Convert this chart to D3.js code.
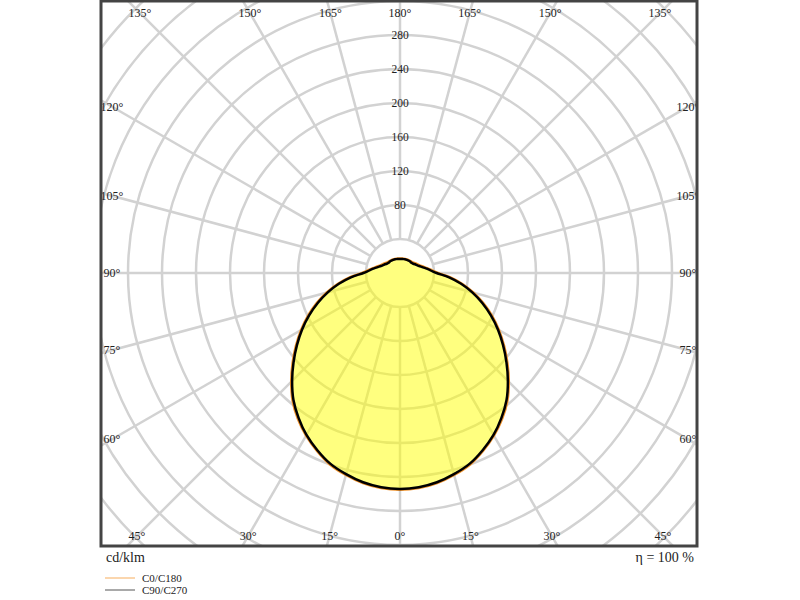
<!DOCTYPE html>
<html>
<head>
<meta charset="utf-8">
<script src="https://cdn.jsdelivr.net/npm/d3@7"></script>
<style>
  html, body { margin: 0; padding: 0; background: #fff; }
  svg { display: block; }
  text { font-family: "Liberation Serif", "Times New Roman", serif; fill: #222; }
</style>
</head>
<body>
<svg id="chart" width="800" height="600"></svg>
<script>
// ---- data (cd/klm) ----
const gammaAngles = [0,5,10,15,20,25,30,35,40,45,50,55,60,65,70,75,80,85,90,95,100,105,110,115,120,125,130,135,140,145,150,155,160,165,170,175,180];
const c0c180 = [255,254,251,246,240,231,221,209.5,196.5,181,165,149.5,134.5,119.5,104.5,89.5,74.5,59.5,44.5,37.5,32.5,28.5,25.5,23.5,22,20.5,19.5,19,18.5,18.2,18,17.8,17.6,17.4,17.2,17,17];
const c90c270 = [254,253,250,245,239,230,220,208,195,179.5,163.5,148,133,118,103,88,73,58,43,36,31,27,24,22,20.5,19,18.2,18,17.9,17.7,17.5,17.3,17.1,16.9,16.7,16.5,16.5];
const ringValues = [40,80,120,160,200,240,280,320,360,400,440,480,520];
const ringLabels = [80,120,160,200,240,280];
const spokeAngles = [0,15,30,45,60,75,90,105,120,135,150,165,180];
const seriesNames = ["C0/C180", "C90/C270"];
const unitLabel = "cd/klm";
const effLabel = "η = 100 %";

// ---- layout ----
const svg = d3.select("#chart");
const cx = 400, cy = 273;
const box = {x0: 101, y0: 1, x1: 697, y1: 546};
const r = d3.scaleLinear().domain([0, 280]).range([0, 238]);
const toRad = d => d * Math.PI / 180;

svg.append("defs").append("clipPath").attr("id", "clip")
  .append("rect").attr("x", box.x0).attr("y", box.y0)
  .attr("width", box.x1 - box.x0).attr("height", box.y1 - box.y0);

const plot = svg.append("g").attr("clip-path", "url(#clip)");
const g = plot.append("g").attr("transform", `translate(${cx},${cy})`);

// rings
g.selectAll("circle.ring").data(ringValues).join("circle")
  .attr("class", "ring").attr("r", d => r(d))
  .attr("fill", "none").attr("stroke", "#d2d2d2").attr("stroke-width", 2.5);

// spokes (both sides)
const spokes = [];
spokeAngles.forEach(a => { spokes.push(a); if (a !== 0 && a !== 180) spokes.push(-a); });
g.selectAll("line.spoke").data(spokes).join("line")
  .attr("class", "spoke")
  .attr("x1", d => r(40) * Math.sin(toRad(d)))
  .attr("y1", d => r(40) * Math.cos(toRad(d)))
  .attr("x2", d => r(700) * Math.sin(toRad(d)))
  .attr("y2", d => r(700) * Math.cos(toRad(d)))
  .attr("stroke", "#d2d2d2").attr("stroke-width", 2.5);

// curves
function closedPoints(vals) {
  const pts = [];
  gammaAngles.forEach((ga, i) => pts.push([Math.PI - toRad(ga), r(vals[i])]));
  for (let i = gammaAngles.length - 2; i >= 1; i--) {
    pts.push([Math.PI + toRad(gammaAngles[i]), r(vals[i])]);
  }
  return pts;
}
const radial = d3.lineRadial().angle(d => d[0]).radius(d => d[1])
  .curve(d3.curveCatmullRomClosed.alpha(0.5));

g.append("path").attr("d", radial(closedPoints(c0c180)))
  .attr("fill", "#ffff00").attr("fill-opacity", 0.5).attr("stroke", "none");
g.append("path").attr("d", radial(closedPoints(c0c180)))
  .attr("fill", "none").attr("stroke", "#f0922a").attr("stroke-width", 2.5);
g.append("path").attr("d", radial(closedPoints(c90c270)))
  .attr("fill", "none").attr("stroke", "#000").attr("stroke-width", 2.5);

// ring labels
g.selectAll("text.rl").data(ringLabels).join("text")
  .attr("class", "rl").attr("x", 0).attr("y", d => -r(d))
  .attr("text-anchor", "middle").attr("dy", "0.35em")
  .attr("font-size", 11.5).text(d => d);

// angle labels placed on inset box
const inset = {left: 288, right: 288, top: 260, bottom: 263};
const angleLabels = [];
spokeAngles.forEach(a => {
  angleLabels.push({a: a, side: 1});
  if (a !== 0 && a !== 180) angleLabels.push({a: a, side: -1});
});
angleLabels.forEach(d => {
  const dx = d.side * Math.sin(toRad(d.a));
  const dy = Math.cos(toRad(d.a));
  let t = Infinity;
  if (Math.abs(dx) > 1e-6) t = Math.min(t, inset.left / Math.abs(dx));
  if (dy > 1e-6) t = Math.min(t, inset.bottom / dy);
  if (dy < -1e-6) t = Math.min(t, inset.top / -dy);
  d.x = dx * t; d.y = dy * t;
});
g.selectAll("text.al").data(angleLabels).join("text")
  .attr("class", "al").attr("x", d => d.x).attr("y", d => d.y)
  .attr("text-anchor", "middle").attr("dy", "0.35em")
  .attr("font-size", 12).text(d => d.a + "°");

// frame
svg.append("rect").attr("x", box.x0).attr("y", box.y0)
  .attr("width", box.x1 - box.x0).attr("height", box.y1 - box.y0)
  .attr("fill", "none").attr("stroke", "#444").attr("stroke-width", 3);

// footer
svg.append("text").attr("x", 106).attr("y", 562).attr("font-size", 14).text(unitLabel);
svg.append("text").attr("x", 694).attr("y", 562).attr("text-anchor", "end").attr("font-size", 14).text(effLabel);

const legendColors = ["#f7ad5c", "#555"];
const leg = svg.append("g");
seriesNames.forEach((name, i) => {
  const y = 578 + i * 12;
  leg.append("line").attr("x1", 105).attr("x2", 135).attr("y1", y).attr("y2", y)
    .attr("stroke", legendColors[i]).attr("stroke-width", 1);
  leg.append("text").attr("x", 142).attr("y", y).attr("dy", "0.35em")
    .attr("font-size", 11).attr("fill", "#333").text(name);
});
</script>
</body>
</html>
